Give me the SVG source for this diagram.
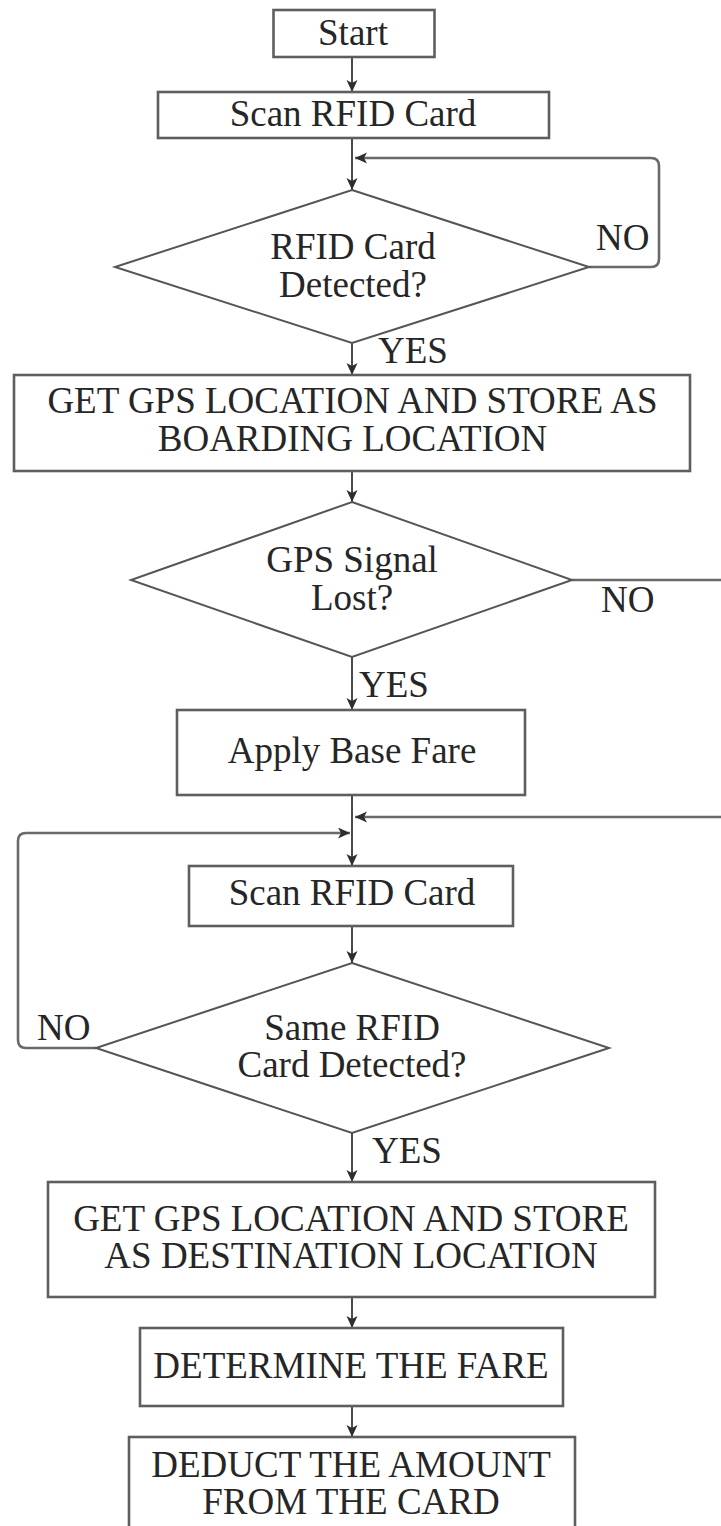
<svg xmlns="http://www.w3.org/2000/svg" width="721" height="1526" viewBox="0 0 721 1526">
<defs>
<style>
.box{fill:#fff;stroke:#5e5e5e;stroke-width:2.6}
.dia{fill:#fff;stroke:#555;stroke-width:2}
.ln{fill:none;stroke:#4a4a4a;stroke-width:2}
.lnl{fill:none;stroke:#6a6a6a;stroke-width:2.6}
text{font-family:"Liberation Serif","Times New Roman",serif;font-size:37px;fill:#262626}
.c{text-anchor:middle}
</style>
<marker id="ah" markerUnits="userSpaceOnUse" markerWidth="13" markerHeight="12" refX="12" refY="5.5" orient="auto">
<path d="M0,0 L12,5.5 L0,11 L3,5.5 z" fill="#2e2e2e"/>
</marker>
</defs>
<rect width="721" height="1526" fill="#fff"/>
<g id="connectors">
<line class="ln" x1="352" y1="57" x2="352" y2="92" marker-end="url(#ah)"/>
<line class="ln" x1="352" y1="138" x2="352" y2="190" marker-end="url(#ah)"/>
<path class="lnl" d="M589,267 H651 Q659,267 659,259 V166 Q659,158 651,158 H355" marker-end="url(#ah)"/>
<line class="ln" x1="352" y1="343" x2="352" y2="375" marker-end="url(#ah)"/>
<line class="ln" x1="352" y1="471" x2="352" y2="502" marker-end="url(#ah)"/>
<line class="lnl" x1="572" y1="580" x2="721" y2="580"/>
<line class="ln" x1="352" y1="657" x2="352" y2="710" marker-end="url(#ah)"/>
<line class="ln" x1="352" y1="795" x2="352" y2="866" marker-end="url(#ah)"/>
<line class="lnl" x1="721" y1="817" x2="355" y2="817" marker-end="url(#ah)"/>
<path class="lnl" d="M96,1048 H26 Q18,1048 18,1040 V841 Q18,833 26,833 H350" marker-end="url(#ah)"/>
<line class="ln" x1="352" y1="926" x2="352" y2="963" marker-end="url(#ah)"/>
<line class="ln" x1="352" y1="1133" x2="352" y2="1182" marker-end="url(#ah)"/>
<line class="ln" x1="352" y1="1297" x2="352" y2="1328" marker-end="url(#ah)"/>
<line class="ln" x1="352" y1="1406" x2="352" y2="1437" marker-end="url(#ah)"/>
<text x="596" y="250">NO</text>
<text x="378" y="363">YES</text>
<text x="601" y="612">NO</text>
<text x="359" y="697">YES</text>
<text x="37" y="1040">NO</text>
<text x="372" y="1163">YES</text>
</g>
<g id="start">
<rect class="box" x="273.5" y="10" width="161" height="47"/>
<text class="c" x="353" y="45">Start</text>
</g>
<g id="scan1">
<rect class="box" x="158" y="92" width="391" height="46"/>
<text class="c" x="353" y="126">Scan RFID Card</text>
</g>
<g id="detected1">
<polygon class="dia" points="352,190 589,267 352,343 115,267"/>
<text class="c" x="353" y="259">RFID Card</text>
<text class="c" x="353" y="297">Detected?</text>
</g>
<g id="boarding">
<rect class="box" x="14" y="375" width="676" height="96"/>
<text class="c" x="352.5" y="413">GET GPS LOCATION AND STORE AS</text>
<text class="c" x="352.5" y="451">BOARDING LOCATION</text>
</g>
<g id="gpslost">
<polygon class="dia" points="352,502 572,580 352,657 131,580"/>
<text class="c" x="352" y="572">GPS Signal</text>
<text class="c" x="352" y="610">Lost?</text>
</g>
<g id="basefare">
<rect class="box" x="177" y="710" width="348" height="85"/>
<text class="c" x="352" y="763">Apply Base Fare</text>
</g>
<g id="scan2">
<rect class="box" x="189" y="866" width="324" height="60"/>
<text class="c" x="352" y="905">Scan RFID Card</text>
</g>
<g id="detected2">
<polygon class="dia" points="352,963 609,1048 352,1133 96,1048"/>
<text class="c" x="352" y="1040">Same RFID</text>
<text class="c" x="352" y="1077">Card Detected?</text>
</g>
<g id="destination">
<rect class="box" x="48" y="1182" width="607" height="115"/>
<text class="c" x="351" y="1231">GET GPS LOCATION AND STORE</text>
<text class="c" x="351" y="1268">AS DESTINATION LOCATION</text>
</g>
<g id="determine">
<rect class="box" x="140" y="1328" width="423" height="78"/>
<text class="c" x="351" y="1378">DETERMINE THE FARE</text>
</g>
<g id="deduct">
<rect class="box" x="129" y="1437" width="446" height="100"/>
<text class="c" x="351" y="1477">DEDUCT THE AMOUNT</text>
<text class="c" x="351" y="1514">FROM THE CARD</text>
</g>
</svg>
